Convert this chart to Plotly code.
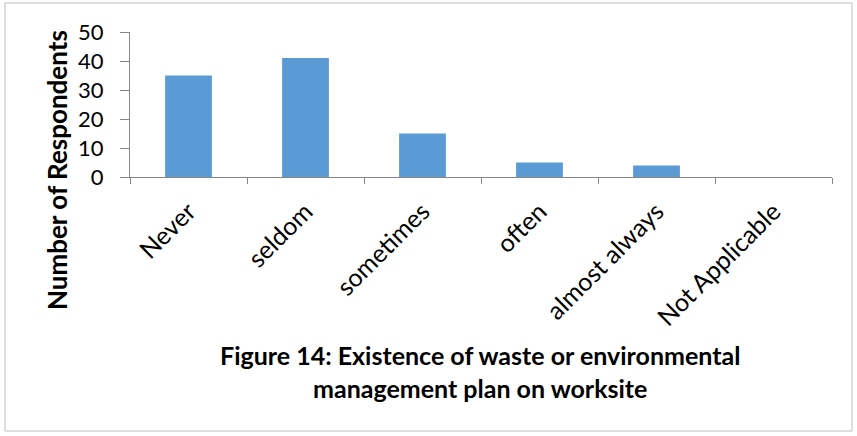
import plotly.graph_objects as go

categories = ["Never", "seldom", "sometimes", "often", "almost always", "Not Applicable"]
respondents = [35, 41, 15, 5, 4, 0]
y_ticks = [0, 10, 20, 30, 40, 50]

W, H = 857, 436
L, R, T, B = 130, 25, 32, 259
pw, ph = W - L - R, H - T - B


def px(x):
    return (x - L) / pw


def py(y):
    return (H - B - y) / ph


FONT = "Lato, Calibri, Carlito, Arial, sans-serif"
AXIS = "#868686"

fig = go.Figure(
    go.Bar(
        x=categories,
        y=respondents,
        marker=dict(color="#5B9BD5", line=dict(width=0)),
        width=0.4,
    )
)

fig.update_layout(
    width=W,
    height=H,
    margin=dict(l=L, r=R, t=T, b=B),
    paper_bgcolor="white",
    plot_bgcolor="white",
    showlegend=False,
    font=dict(family=FONT, color="black"),
    xaxis=dict(
        automargin=False,
        showline=True,
        linecolor=AXIS,
        linewidth=1,
        ticks="outside",
        tickson="boundaries",
        ticklen=6,
        tickcolor=AXIS,
        tickangle=-45,
        ticklabelstandoff=9,
        tickfont=dict(size=25),
        showgrid=False,
    ),
    yaxis=dict(
        automargin=False,
        range=[0, 50],
        tickvals=y_ticks,
        showline=True,
        linecolor=AXIS,
        linewidth=1,
        ticks="outside",
        ticklen=9,
        tickcolor=AXIS,
        ticklabelstandoff=12,
        tickfont=dict(size=22),
        showgrid=False,
        zeroline=False,
    ),
    shapes=[
        dict(
            type="rect",
            xref="paper",
            yref="paper",
            x0=px(5),
            x1=px(852),
            y0=py(3),
            y1=py(431),
            line=dict(color="#BFBFBF", width=1),
        )
    ],
    annotations=[
        dict(
            text="<b>Number of Respondents</b>",
            textangle=-90,
            xref="paper",
            yref="paper",
            x=px(57),
            y=py(170),
            xanchor="center",
            yanchor="middle",
            showarrow=False,
            font=dict(size=26),
        ),
        dict(
            text="<b>Figure 14: Existence of waste or environmental<br>management plan on worksite</b>",
            xref="paper",
            yref="paper",
            x=px(480),
            y=py(371),
            xanchor="center",
            yanchor="middle",
            showarrow=False,
            font=dict(size=25),
            align="center",
        ),
    ],
)

# drop the default 8px page margin so the figure sits at the window corner
fig.write_html(
    "out.html",
    config={"displayModeBar": False},
    post_script="document.body.style.margin='0';",
)
